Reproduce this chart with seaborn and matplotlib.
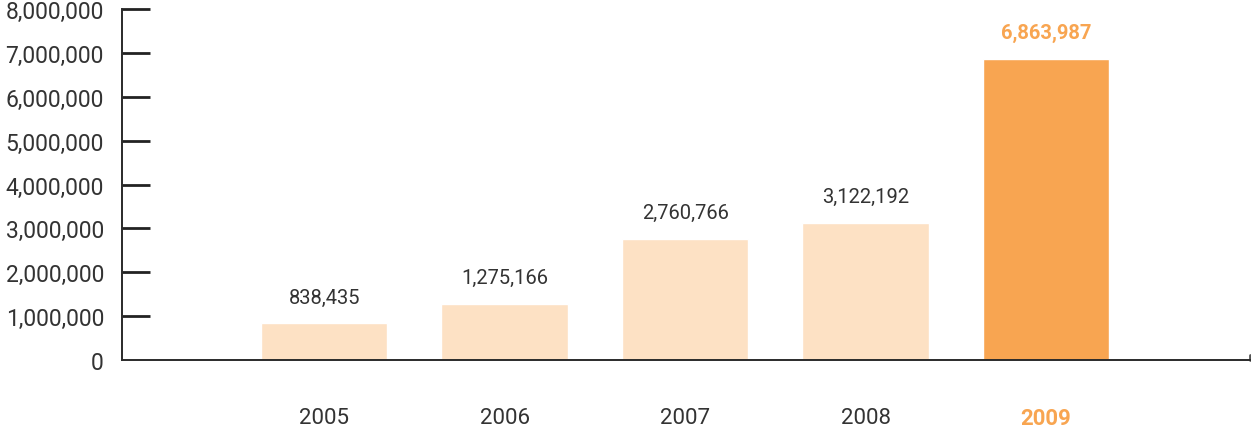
import numpy as np
import pandas as pd
import seaborn as sns
from matplotlib import pyplot as plt
from matplotlib.ticker import FuncFormatter

years = ["2005", "2006", "2007", "2008", "2009"]
values = [838435, 1275166, 2760766, 3122192, 6863987]
highlight = "2009"

light = "#FDE1C4"
orange = "#F8A551"
text_col = "#333333"

sns.set_style("white")
plt.rcParams['font.family'] = ['Roboto', 'DejaVu Sans']

df = pd.DataFrame({"year": years, "value": values})
colors = [orange if y == highlight else light for y in years]

fig = plt.figure(figsize=(12.51, 4.27), dpi=100)
ax = fig.add_axes([122 / 1251, 1 - 361 / 427, 1128 / 1251, 351 / 427])

sns.barplot(data=df, x="year", y="value", hue="year", palette=colors,
            legend=False, width=0.70, saturation=1, ax=ax)

ax.set_xlim(-1.12, 5.13)
ax.set_ylim(0, 8000000)
ax.set_yticks(np.arange(0, 8000001, 1000000))
ax.yaxis.set_major_formatter(FuncFormatter(lambda v, p: f"{int(v):,}"))
ax.set_xlabel("")
ax.set_ylabel("")

for s in ["top", "right"]:
    ax.spines[s].set_visible(False)
for s in ["left", "bottom"]:
    ax.spines[s].set_color("#2a2a2a")
    ax.spines[s].set_linewidth(1.4)

ax.tick_params(axis="y", left=True, direction="in", length=20, width=2, color="#222222",
               pad=13, labelsize=16.5, labelcolor=text_col)
ax.tick_params(axis="x", bottom=False, length=0, pad=33.5, labelsize=16, labelcolor=text_col)
ax.yaxis.get_major_ticks()[0].tick1line.set_visible(False)

for lbl in ax.get_xticklabels():
    if lbl.get_text() == highlight:
        lbl.set_color(orange)
        lbl.set_fontweight("bold")

# small end tick on the right of x-axis
ax.axvline(5.13, ymin=0, ymax=0.015, color="#555555", linewidth=2, clip_on=False)

for i, (y, v) in enumerate(zip(years, values)):
    hl = y == highlight
    ax.annotate(f"{v:,}", (i, v), xytext=(0, 12), textcoords="offset points",
                ha="center", va="bottom", fontsize=14.5,
                color=orange if hl else text_col,
                fontweight="bold" if hl else "normal")

fig.savefig("out.png", dpi=100)
